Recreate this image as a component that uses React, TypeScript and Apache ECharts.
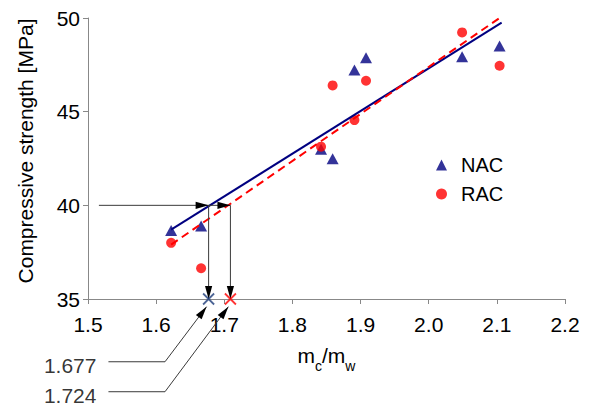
import React, { useEffect, useRef } from "react";
import * as echarts from "echarts";

// ---- data ----
const xRatio = [1.622, 1.666, 1.842, 1.859, 1.891, 1.908, 2.049, 2.104];
const nacStrength = [38.65, 38.9, 43.0, 42.49, 47.22, 47.88, 47.93, 48.5];
const racStrength = [38.0, 36.64, 43.13, 46.4, 44.55, 46.65, 49.23, 47.45];

const nacFitX = [1.622, 2.107];
const nacFitY = [38.7, 49.75];
const racFitX = [1.622, 2.104];
const racFitY = [37.9, 50.0];

const targetStrength = 40;
const arrowStartX = 1.516;
const readX = [1.677, 1.709]; // where the fits cross 40 MPa (as drawn)
const readColors = ["#1F3D7A", "#FF0000"];
const labelTexts = ["1.677", "1.724"];
const labelX = 1.53;
const elbowX = 1.613;
const labelY = [31.65, 30.05];
const tipX = [1.674, 1.706];
const tipY = 34.59;

const xTicks = { min: 1.5, max: 2.2, interval: 0.1 };
const yTicks = { min: 35, max: 50, interval: 5 };

const FONT = "Liberation Sans, Arial, sans-serif";

export default function App() {
  const ref = useRef<HTMLDivElement>(null);
  useEffect(() => {
    if (!ref.current) return;
    const chart = echarts.init(ref.current, null, { renderer: "svg" });

    // [x1, y1, x2, y2, hasArrow]
    const segments: number[][] = [];
    segments.push([arrowStartX, targetStrength, readX[0], targetStrength, 1]);
    segments.push([readX[0], targetStrength, readX[1], targetStrength, 1]);
    readX.forEach((x) => segments.push([x, targetStrength, x, yTicks.min, 1]));
    labelY.forEach((y, i) => {
      segments.push([labelX, y, elbowX, y, 0]);
      segments.push([elbowX, y, tipX[i], tipY, 1]);
    });

    const renderArrow = (params: any, api: any) => {
      const p1 = api.coord([api.value(0), api.value(1)]);
      const p2 = api.coord([api.value(2), api.value(3)]);
      const hasArrow = api.value(4) > 0;
      const dx = p2[0] - p1[0];
      const dy = p2[1] - p1[1];
      const len = Math.sqrt(dx * dx + dy * dy) || 1;
      const ux = dx / len;
      const uy = dy / len;
      const L = 13;
      const W = 3.6;
      const children: any[] = [
        {
          type: "line",
          shape: { x1: p1[0], y1: p1[1], x2: p2[0], y2: p2[1] },
          style: { stroke: "#3a3a3a", lineWidth: 1 },
        },
      ];
      if (hasArrow) {
        const bx = p2[0] - ux * L;
        const by = p2[1] - uy * L;
        children.push({
          type: "polygon",
          shape: {
            points: [
              [p2[0], p2[1]],
              [bx - uy * W, by + ux * W],
              [bx + uy * W, by - ux * W],
            ],
          },
          style: { fill: "#000" },
        });
      }
      return { type: "group", children };
    };

    chart.setOption({
      animation: false,
      grid: { left: 88, right: 24, top: 18, bottom: 115, containLabel: false },
      legend: {
        orient: "vertical",
        left: 431,
        top: 150,
        itemWidth: 11,
        itemHeight: 11,
        itemGap: 9,
        textStyle: { fontSize: 20, fontFamily: FONT, color: "#000", padding: [0, 0, 0, 9] },
        data: [
          { name: "NAC", icon: "triangle" },
          { name: "RAC", icon: "circle" },
        ],
      },
      xAxis: {
        type: "value",
        min: xTicks.min,
        max: xTicks.max,
        interval: xTicks.interval,
        name: "{a|m}{s|c}{a|/m}{s|w}",
        nameLocation: "middle",
        nameGap: 46,
        nameTextStyle: {
          rich: {
            a: { fontSize: 21, fontFamily: FONT, color: "#000", lineHeight: 28, verticalAlign: "top" },
            s: { fontSize: 14, fontFamily: FONT, color: "#000", lineHeight: 11, verticalAlign: "bottom" },
          },
        },
        axisLine: { show: true, lineStyle: { color: "#888", width: 1 } },
        axisTick: { show: true, length: 5, lineStyle: { color: "#888" } },
        axisLabel: {
          fontSize: 21,
          fontFamily: FONT,
          color: "#000",
          margin: 15,
          formatter: (v: number) => v.toFixed(1),
        },
        splitLine: { show: false },
      },
      yAxis: {
        type: "value",
        min: yTicks.min,
        max: yTicks.max,
        interval: yTicks.interval,
        name: "Compressive strength [MPa]",
        nameLocation: "middle",
        nameGap: 52,
        nameTextStyle: { fontSize: 21, fontFamily: FONT, color: "#000", padding: [0, 0, 0, 15] },
        axisLine: { show: true, lineStyle: { color: "#888", width: 1 } },
        axisTick: { show: true, length: 5, lineStyle: { color: "#888" } },
        axisLabel: { fontSize: 21, fontFamily: FONT, color: "#000", margin: 8 },
        splitLine: { show: false },
      },
      series: [
        {
          name: "NAC",
          type: "scatter",
          symbol: "triangle",
          symbolSize: [12, 11],
          itemStyle: { color: "#000080" },
          data: xRatio.map((x, i) => [x, nacStrength[i]]),
          z: 3,
        },
        {
          name: "RAC",
          type: "scatter",
          symbol: "circle",
          symbolSize: 10,
          itemStyle: { color: "#FF0000" },
          data: xRatio.map((x, i) => [x, racStrength[i]]),
          z: 3,
        },
        {
          name: "NAC fit",
          type: "line",
          showSymbol: false,
          symbol: "none",
          lineStyle: { color: "#000080", width: 2 },
          data: nacFitX.map((x, i) => [x, nacFitY[i]]),
          z: 4,
        },
        {
          name: "RAC fit",
          type: "line",
          showSymbol: false,
          symbol: "none",
          lineStyle: { color: "#FF0000", width: 2, type: [8, 5] },
          data: racFitX.map((x, i) => [x, racFitY[i]]),
          z: 4,
        },
        {
          name: "arrows",
          type: "custom",
          coordinateSystem: "cartesian2d",
          clip: false,
          renderItem: renderArrow,
          encode: { x: [0, 2], y: [1, 3] },
          data: segments,
          z: 5,
          silent: true,
        },
        {
          name: "readings",
          type: "scatter",
          clip: false,
          symbol: "path://M0,0L10,10M10,0L0,10",
          symbolSize: 11,
          data: readX.map((x, i) => ({
            value: [x, yTicks.min],
            itemStyle: { color: "none", borderColor: readColors[i], borderWidth: 1.8 },
          })),
          z: 6,
        },
        {
          name: "reading labels",
          type: "scatter",
          clip: false,
          symbolSize: 0,
          data: labelY.map((y, i) => ({ value: [labelX, y], name: labelTexts[i] })),
          label: {
            show: true,
            position: "left",
            distance: 12,
            offset: [0, 4],
            formatter: (p: any) => p.name,
            fontSize: 21,
            fontFamily: FONT,
            color: "#000",
          },
          z: 6,
        },
      ],
    });
    return () => chart.dispose();
  }, []);
  return <div ref={ref} style={{ width: 589, height: 414, position: "absolute", left: 0, top: 0 }} />;
}
